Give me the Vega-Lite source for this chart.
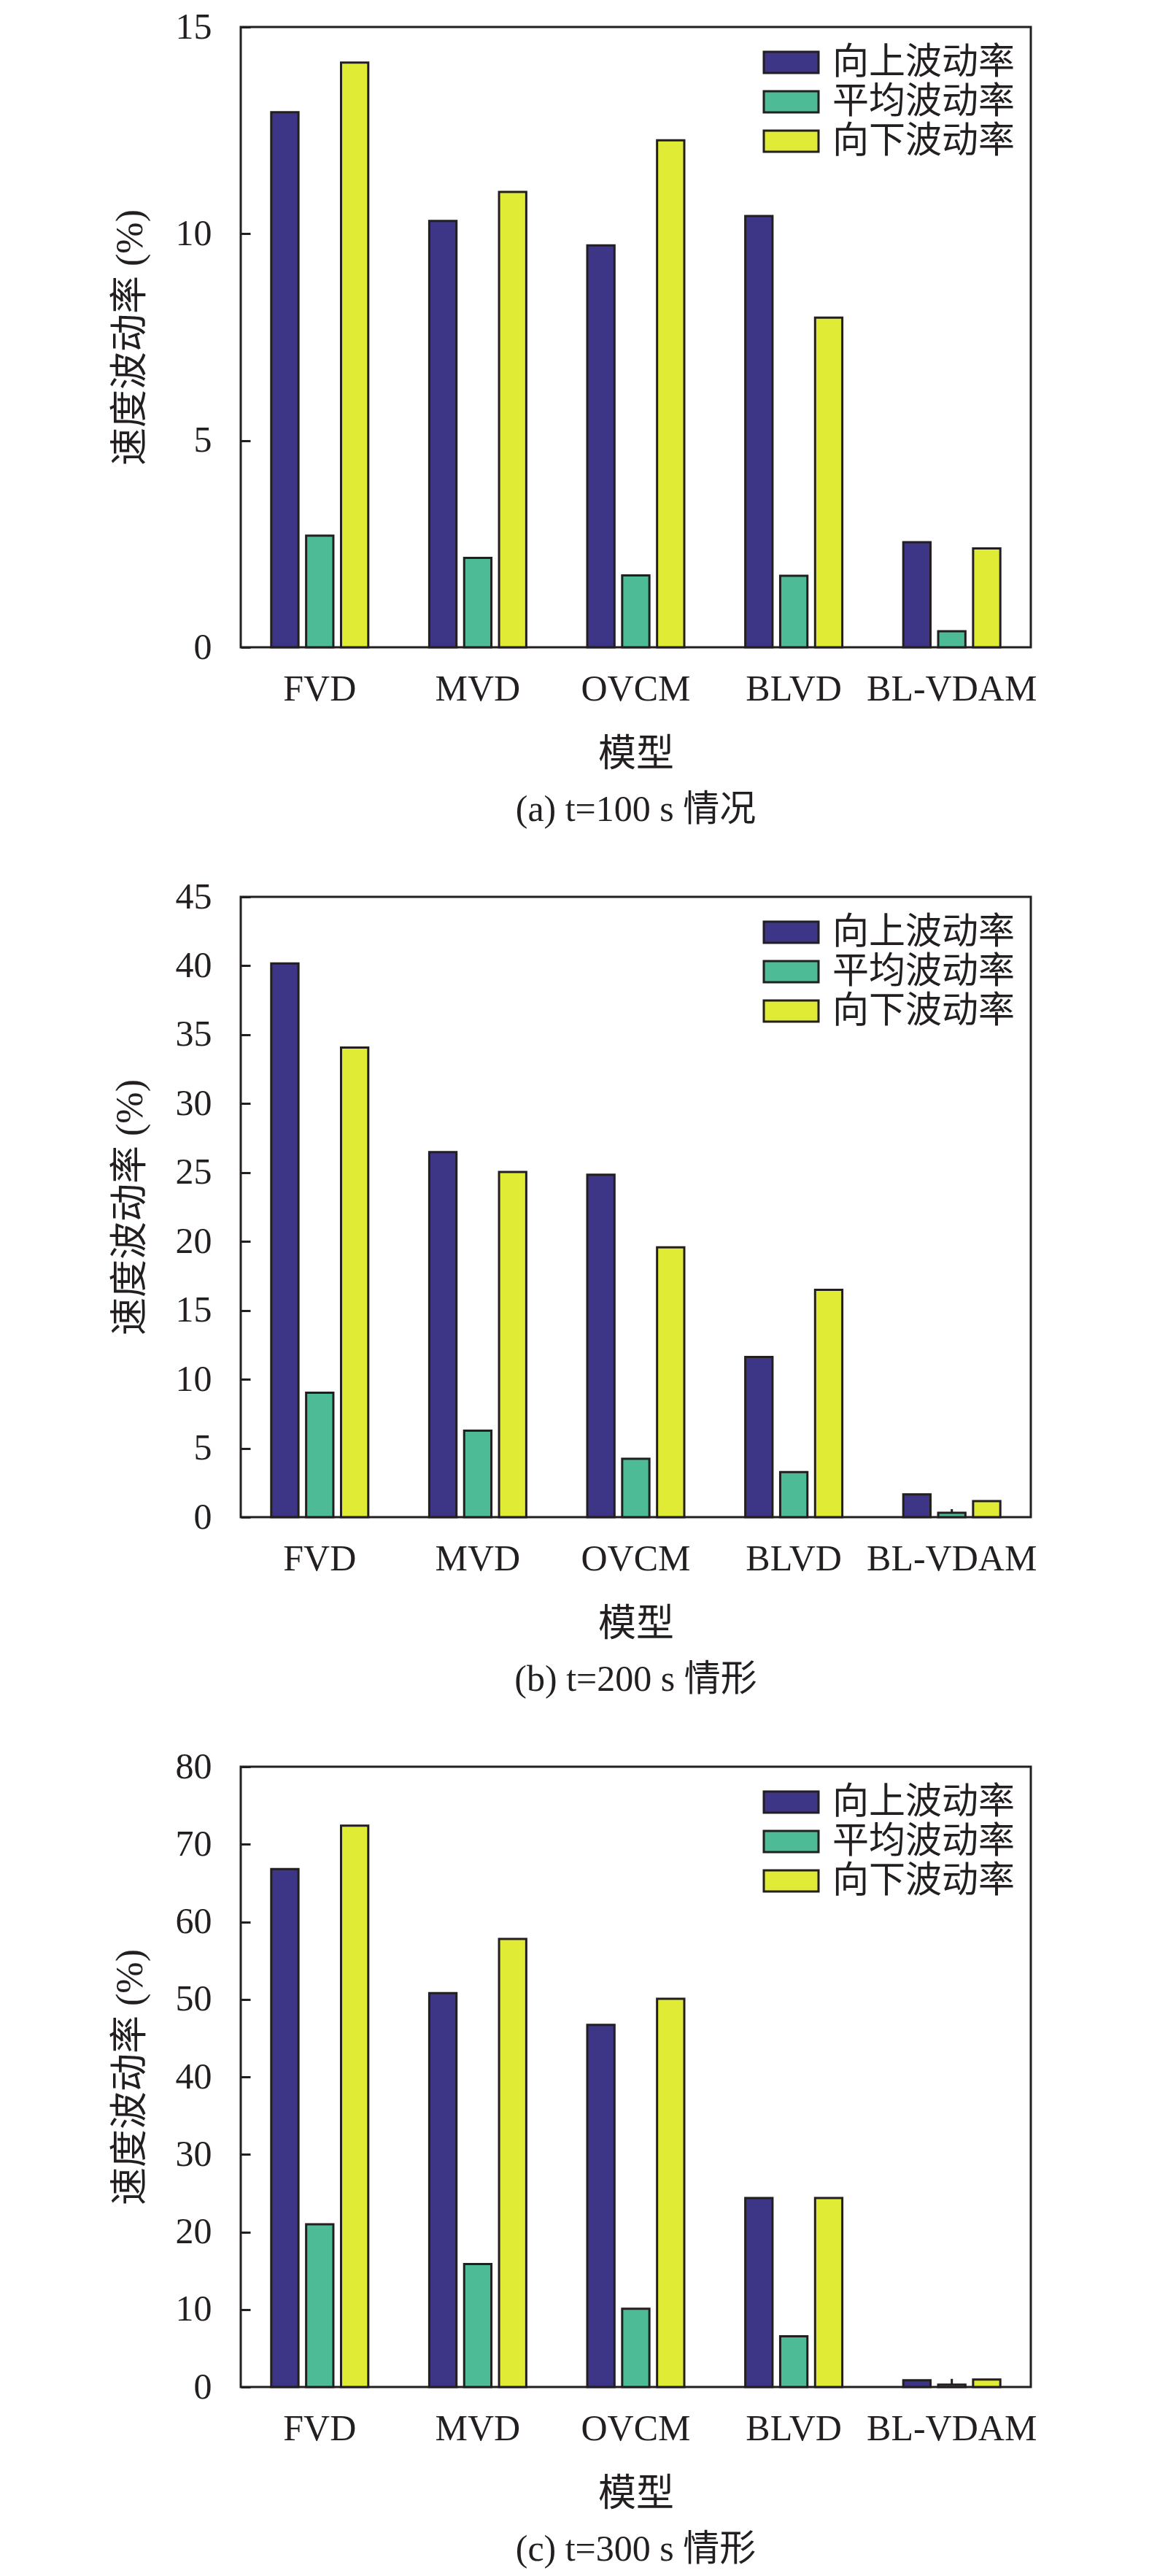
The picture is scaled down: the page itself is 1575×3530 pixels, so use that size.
{
  "$schema": "https://vega.github.io/schema/vega-lite/v6.json",
  "background": "white",
  "padding": {"left": 150, "top": 10, "right": 10, "bottom": 10},
  "data": {
    "values": [
      {"panel": "a", "model": "FVD", "type": "向上波动率", "value": 12.94},
      {"panel": "a", "model": "FVD", "type": "平均波动率", "value": 2.70},
      {"panel": "a", "model": "FVD", "type": "向下波动率", "value": 14.14},
      {"panel": "a", "model": "MVD", "type": "向上波动率", "value": 10.31},
      {"panel": "a", "model": "MVD", "type": "平均波动率", "value": 2.16},
      {"panel": "a", "model": "MVD", "type": "向下波动率", "value": 11.01},
      {"panel": "a", "model": "OVCM", "type": "向上波动率", "value": 9.72},
      {"panel": "a", "model": "OVCM", "type": "平均波动率", "value": 1.74},
      {"panel": "a", "model": "OVCM", "type": "向下波动率", "value": 12.26},
      {"panel": "a", "model": "BLVD", "type": "向上波动率", "value": 10.43},
      {"panel": "a", "model": "BLVD", "type": "平均波动率", "value": 1.73},
      {"panel": "a", "model": "BLVD", "type": "向下波动率", "value": 7.97},
      {"panel": "a", "model": "BL-VDAM", "type": "向上波动率", "value": 2.54},
      {"panel": "a", "model": "BL-VDAM", "type": "平均波动率", "value": 0.39},
      {"panel": "a", "model": "BL-VDAM", "type": "向下波动率", "value": 2.39},
      {"panel": "b", "model": "FVD", "type": "向上波动率", "value": 40.17},
      {"panel": "b", "model": "FVD", "type": "平均波动率", "value": 9.03},
      {"panel": "b", "model": "FVD", "type": "向下波动率", "value": 34.07},
      {"panel": "b", "model": "MVD", "type": "向上波动率", "value": 26.48},
      {"panel": "b", "model": "MVD", "type": "平均波动率", "value": 6.27},
      {"panel": "b", "model": "MVD", "type": "向下波动率", "value": 25.04},
      {"panel": "b", "model": "OVCM", "type": "向上波动率", "value": 24.84},
      {"panel": "b", "model": "OVCM", "type": "平均波动率", "value": 4.23},
      {"panel": "b", "model": "OVCM", "type": "向下波动率", "value": 19.57},
      {"panel": "b", "model": "BLVD", "type": "向上波动率", "value": 11.62},
      {"panel": "b", "model": "BLVD", "type": "平均波动率", "value": 3.27},
      {"panel": "b", "model": "BLVD", "type": "向下波动率", "value": 16.49},
      {"panel": "b", "model": "BL-VDAM", "type": "向上波动率", "value": 1.65},
      {"panel": "b", "model": "BL-VDAM", "type": "平均波动率", "value": 0.32, "err": 0.58},
      {"panel": "b", "model": "BL-VDAM", "type": "向下波动率", "value": 1.17},
      {"panel": "c", "model": "FVD", "type": "向上波动率", "value": 66.8},
      {"panel": "c", "model": "FVD", "type": "平均波动率", "value": 21.0},
      {"panel": "c", "model": "FVD", "type": "向下波动率", "value": 72.4},
      {"panel": "c", "model": "MVD", "type": "向上波动率", "value": 50.8},
      {"panel": "c", "model": "MVD", "type": "平均波动率", "value": 15.87},
      {"panel": "c", "model": "MVD", "type": "向下波动率", "value": 57.8},
      {"panel": "c", "model": "OVCM", "type": "向上波动率", "value": 46.7},
      {"panel": "c", "model": "OVCM", "type": "平均波动率", "value": 10.1},
      {"panel": "c", "model": "OVCM", "type": "向下波动率", "value": 50.07},
      {"panel": "c", "model": "BLVD", "type": "向上波动率", "value": 24.37},
      {"panel": "c", "model": "BLVD", "type": "平均波动率", "value": 6.53},
      {"panel": "c", "model": "BLVD", "type": "向下波动率", "value": 24.37},
      {"panel": "c", "model": "BL-VDAM", "type": "向上波动率", "value": 0.88},
      {"panel": "c", "model": "BL-VDAM", "type": "平均波动率", "value": 0.3, "err": 1.05},
      {"panel": "c", "model": "BL-VDAM", "type": "向下波动率", "value": 0.97}
    ]
  },
  "spacing": 342,
  "bounds": "flush",
  "resolve": {"scale": {"fill": "independent"}, "legend": {"fill": "independent"}},
  "config": {
    "font": "Liberation Serif, Noto Sans CJK SC",
    "view": {"stroke": "#231f20", "strokeWidth": 3},
    "axis": {
      "labelFont": "Liberation Serif, Noto Sans CJK SC",
      "titleFont": "Liberation Serif, Noto Sans CJK SC",
      "labelFontSize": 50,
      "labelColor": "#231f20",
      "labelLimit": 0,
      "titleFontSize": 52,
      "titleFontWeight": "normal",
      "titleColor": "#231f20",
      "domain": false,
      "grid": false
    },
    "axisY": {"tickSize": -13, "tickWidth": 3, "tickColor": "#231f20", "labelPadding": 53, "titlePadding": 35},
    "axisX": {"ticks": false, "labelPadding": 32, "titlePadding": 39, "labelAngle": 0},
    "legend": {
      "orient": "top-right",
      "offset": 22,
      "padding": 0,
      "title": null,
      "symbolType": "M-1.5,-0.58H1.5V0.58H-1.5Z",
      "symbolSize": 2500,
      "symbolStrokeColor": "#231f20",
      "symbolStrokeWidth": 3,
      "symbolOpacity": 1,
      "labelFont": "Liberation Serif, Noto Sans CJK SC",
      "labelFontSize": 50,
      "labelColor": "#231f20",
      "labelLimit": 0,
      "labelOffset": 30,
      "rowPadding": 2
    },
    "title": {"orient": "bottom", "fontSize": 50, "fontWeight": "normal", "color": "#231f20", "offset": 26, "anchor": "middle", "font": "Liberation Serif, Noto Sans CJK SC"}
  },
  "vconcat": [
    {
      "width": 1083,
      "height": 850,
      "title": {"text": "(a) t=100 s 情况"},
      "transform": [{"filter": "datum.panel === 'a'"}],
      "layer": [
        {
          "mark": {"type": "bar", "stroke": "#231f20", "strokeWidth": 3},
          "encoding": {
            "x": {"field": "model", "type": "nominal", "sort": ["FVD", "MVD", "OVCM", "BLVD", "BL-VDAM"], "scale": {"paddingInner": 0.386, "paddingOuter": 0.193}, "title": "模型"},
            "xOffset": {"field": "type", "type": "nominal", "sort": ["向上波动率", "平均波动率", "向下波动率"], "scale": {"paddingInner": 0.22, "paddingOuter": 0}},
            "y": {"field": "value", "type": "quantitative", "scale": {"domain": [0, 15], "nice": false}, "axis": {"values": [0, 5, 10, 15]}, "title": "速度波动率 (%)"},
            "fill": {"field": "type", "type": "nominal", "scale": {"domain": ["向上波动率", "平均波动率", "向下波动率"], "range": ["#3d3585", "#4dbb95", "#e0eb35"]}}
          }
        }
      ]
    },
    {
      "width": 1083,
      "height": 850,
      "title": {"text": "(b) t=200 s 情形"},
      "transform": [{"filter": "datum.panel === 'b'"}],
      "layer": [
        {
          "mark": {"type": "bar", "stroke": "#231f20", "strokeWidth": 3},
          "encoding": {
            "x": {"field": "model", "type": "nominal", "sort": ["FVD", "MVD", "OVCM", "BLVD", "BL-VDAM"], "scale": {"paddingInner": 0.386, "paddingOuter": 0.193}, "title": "模型"},
            "xOffset": {"field": "type", "type": "nominal", "sort": ["向上波动率", "平均波动率", "向下波动率"], "scale": {"paddingInner": 0.22, "paddingOuter": 0}},
            "y": {"field": "value", "type": "quantitative", "scale": {"domain": [0, 45], "nice": false}, "axis": {"values": [0, 5, 10, 15, 20, 25, 30, 35, 40, 45]}, "title": "速度波动率 (%)"},
            "fill": {"field": "type", "type": "nominal", "scale": {"domain": ["向上波动率", "平均波动率", "向下波动率"], "range": ["#3d3585", "#4dbb95", "#e0eb35"]}}
          }
        },
        {
          "transform": [{"filter": "datum.err != null"}],
          "mark": {"type": "rule", "stroke": "#231f20", "strokeWidth": 3},
          "encoding": {
            "x": {"field": "model", "type": "nominal", "sort": ["FVD", "MVD", "OVCM", "BLVD", "BL-VDAM"]},
            "xOffset": {"field": "type", "type": "nominal", "sort": ["向上波动率", "平均波动率", "向下波动率"]},
            "y": {"field": "value", "type": "quantitative"},
            "y2": {"field": "err"}
          }
        }
      ]
    },
    {
      "width": 1083,
      "height": 850,
      "title": {"text": "(c) t=300 s 情形"},
      "transform": [{"filter": "datum.panel === 'c'"}],
      "layer": [
        {
          "mark": {"type": "bar", "stroke": "#231f20", "strokeWidth": 3},
          "encoding": {
            "x": {"field": "model", "type": "nominal", "sort": ["FVD", "MVD", "OVCM", "BLVD", "BL-VDAM"], "scale": {"paddingInner": 0.386, "paddingOuter": 0.193}, "title": "模型"},
            "xOffset": {"field": "type", "type": "nominal", "sort": ["向上波动率", "平均波动率", "向下波动率"], "scale": {"paddingInner": 0.22, "paddingOuter": 0}},
            "y": {"field": "value", "type": "quantitative", "scale": {"domain": [0, 80], "nice": false}, "axis": {"values": [0, 10, 20, 30, 40, 50, 60, 70, 80]}, "title": "速度波动率 (%)"},
            "fill": {"field": "type", "type": "nominal", "scale": {"domain": ["向上波动率", "平均波动率", "向下波动率"], "range": ["#3d3585", "#4dbb95", "#e0eb35"]}}
          }
        },
        {
          "transform": [{"filter": "datum.err != null"}],
          "mark": {"type": "rule", "stroke": "#231f20", "strokeWidth": 3},
          "encoding": {
            "x": {"field": "model", "type": "nominal", "sort": ["FVD", "MVD", "OVCM", "BLVD", "BL-VDAM"]},
            "xOffset": {"field": "type", "type": "nominal", "sort": ["向上波动率", "平均波动率", "向下波动率"]},
            "y": {"field": "value", "type": "quantitative"},
            "y2": {"field": "err"}
          }
        }
      ]
    }
  ]
}
